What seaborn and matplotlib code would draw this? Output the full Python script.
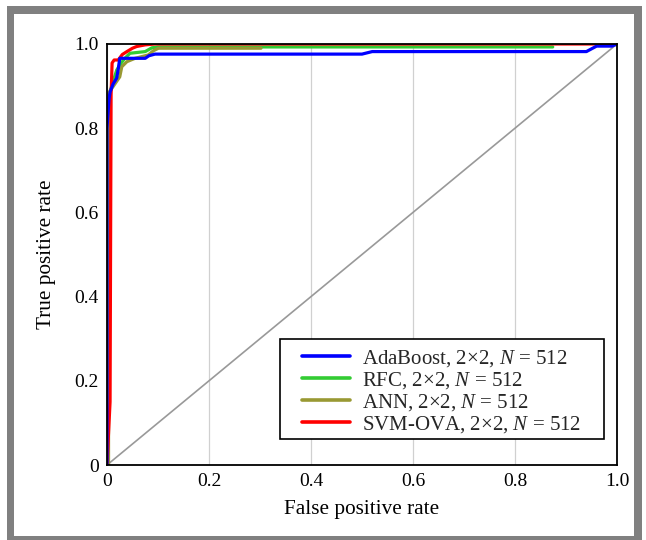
import matplotlib
matplotlib.use("Agg")
import matplotlib.pyplot as plt
import seaborn as sns
import pandas as pd
from matplotlib.patches import Rectangle
from matplotlib.ticker import FuncFormatter

# ---- data ----
ada_fpr = [0.0, 0.0, 0.004, 0.006, 0.012, 0.019, 0.022, 0.025, 0.075, 0.082, 0.094, 0.50, 0.52, 0.94, 0.96, 0.99, 1.0]
ada_tpr = [0.0, 0.80, 0.87, 0.886, 0.905, 0.919, 0.94, 0.966, 0.966, 0.972, 0.976, 0.976, 0.982, 0.982, 0.995, 0.995, 1.0]

rfc_fpr = [0.0, 0.0, 0.004, 0.009, 0.019, 0.028, 0.035, 0.045, 0.075, 0.088, 0.10, 0.874]
rfc_tpr = [0.0, 0.85, 0.88, 0.899, 0.938, 0.955, 0.966, 0.978, 0.982, 0.991, 0.993, 0.993]

ann_fpr = [0.003, 0.003, 0.012, 0.025, 0.029, 0.039, 0.055, 0.081, 0.091, 0.101, 0.302]
ann_tpr = [0.0, 0.883, 0.899, 0.922, 0.946, 0.958, 0.966, 0.974, 0.984, 0.99, 0.99]

svm_fpr = [0.0, 0.006, 0.008, 0.010, 0.014, 0.022, 0.030, 0.039, 0.050, 0.058, 0.075, 0.094, 1.0]
svm_tpr = [0.0, 0.15, 0.88, 0.955, 0.962, 0.962, 0.975, 0.982, 0.990, 0.994, 0.998, 1.0, 1.0]

labels = ["AdaBoost, 2×2, $N$ = 512", "RFC, 2×2, $N$ = 512",
          "ANN, 2×2, $N$ = 512", "SVM-OVA, 2×2, $N$ = 512"]
colors = ["#0000ff", "#33cc33", "#999933", "#ff0000"]
xticks = [0, 0.2, 0.4, 0.6, 0.8, 1.0]
yticks = [0, 0.2, 0.4, 0.6, 0.8, 1.0]

sns.set_theme(style="white")
plt.rcParams["font.family"] = ["Liberation Serif", "DejaVu Serif"]
plt.rcParams["mathtext.fontset"] = "custom"
plt.rcParams["mathtext.rm"] = "Liberation Serif"
plt.rcParams["mathtext.it"] = "Liberation Serif:italic"

W, H = 646, 540
fig = plt.figure(figsize=(W / 100, H / 100), dpi=100)
fig.patch.set_facecolor("white")
# gray frame
fig.patches.append(Rectangle((7 / W, 0), 635 / W, 534 / H, transform=fig.transFigure,
                             facecolor="#808080", edgecolor="none", zorder=-10))
fig.patches.append(Rectangle((14 / W, 4 / H), 620 / W, 522 / H, transform=fig.transFigure,
                             facecolor="white", edgecolor="none", zorder=-9))

ax = fig.add_axes([107 / W, 1 - 465 / H, 510 / W, 421 / H])
ax.set_facecolor("none")

series = [(ada_fpr, ada_tpr, 2.4), (rfc_fpr, rfc_tpr, 2.1), (ann_fpr, ann_tpr, 2.2), (svm_fpr, svm_tpr, 2.3)]
for (fx, ty, z), lab, col in zip(series, labels, colors):
    df = pd.DataFrame({"fpr": fx, "tpr": ty})
    sns.lineplot(data=df, x="fpr", y="tpr", sort=False, estimator=None, ax=ax,
                 color=col, linewidth=2.3, label=lab, zorder=z)

ax.plot([0, 1], [0, 1], color="#999999", linewidth=1.2, zorder=1.5)

ax.set_xlim(0, 1)
ax.set_ylim(0, 1)
ax.set_xticks(xticks)
ax.set_yticks(yticks)
fmt = FuncFormatter(lambda v, p: "0" if v == 0 else f"{v:.1f}")
ax.xaxis.set_major_formatter(fmt)
ax.yaxis.set_major_formatter(fmt)
ax.tick_params(axis="both", length=0, pad=6, labelsize=14, colors="black")
ax.grid(axis="x", color="#d0d0d0", linewidth=0.9, zorder=0)
ax.grid(axis="y", visible=False)
for s in ax.spines.values():
    s.set_color("black")
    s.set_linewidth(1.3)
ax.set_xlabel("False positive rate", fontsize=15.3, color="black", labelpad=7)
ax.set_ylabel("True positive rate", fontsize=15.3, color="black", labelpad=13)

# legend box (frame drawn separately to get the wide side padding)
ax.add_patch(Rectangle((0.339, 0.0618), 0.9745 - 0.339, 0.2993 - 0.0618,
                       transform=ax.transAxes, facecolor="white", edgecolor="black",
                       linewidth=1.2, zorder=4))
leg = ax.legend(loc="lower right", bbox_to_anchor=(0.945, 0.0546),
                borderaxespad=0, fontsize=15, frameon=False,
                handlelength=2.3, labelspacing=0.05, borderpad=0.35,
                handletextpad=0.6)
leg.set_zorder(5)
for h in leg.get_lines():
    h.set_linewidth(2.6)

fig.savefig("out.png", dpi=100)
